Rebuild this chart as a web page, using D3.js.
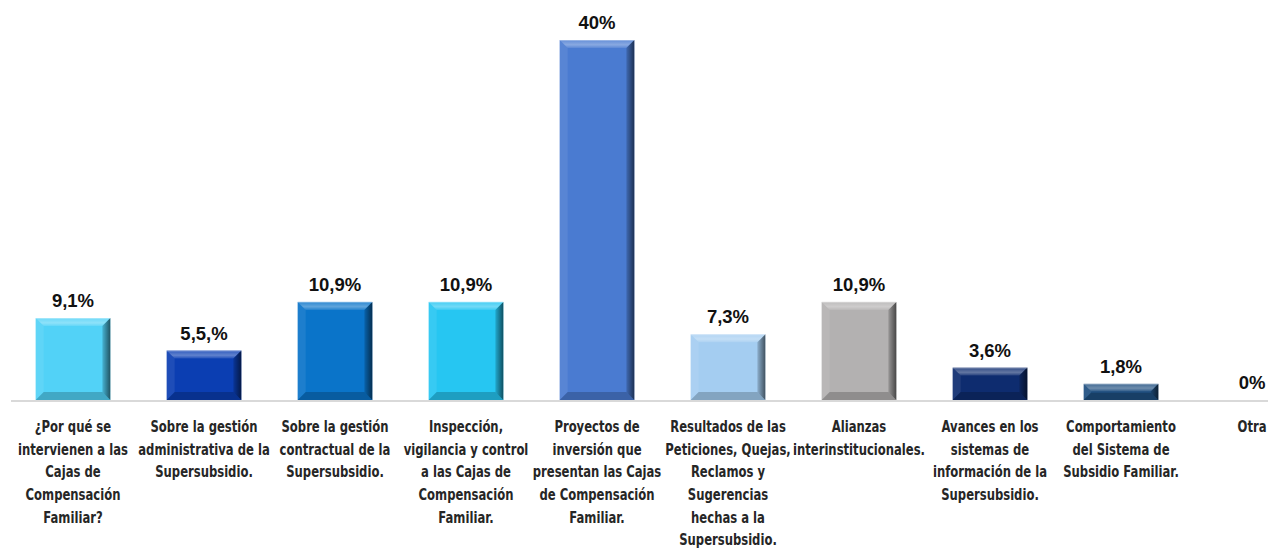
<!DOCTYPE html>
<html>
<head>
<meta charset="utf-8">
<script src="https://cdn.jsdelivr.net/npm/d3@7"></script>
<style>
  html, body { margin: 0; padding: 0; background: #ffffff; }
  svg { display: block; }
</style>
</head>
<body>
<svg id="chart" width="1268" height="548"></svg>
<script>
// ---- data ----
const categories = [
  "¿Por qué se\nintervienen a las\nCajas de\nCompensación\nFamiliar?",
  "Sobre la gestión\nadministrativa de la\nSupersubsidio.",
  "Sobre la gestión\ncontractual de la\nSupersubsidio.",
  "Inspección,\nvigilancia y control\na las Cajas de\nCompensación\nFamiliar.",
  "Proyectos de\ninversión que\npresentan las Cajas\nde Compensación\nFamiliar.",
  "Resultados de las\nPeticiones, Quejas,\nReclamos y\nSugerencias\nhechas a la\nSupersubsidio.",
  "Alianzas\ninterinstitucionales.",
  "Avances en los\nsistemas de\ninformación de la\nSupersubsidio.",
  "Comportamiento\ndel Sistema de\nSubsidio Familiar.",
  "Otra"
];
const values = [9.1, 5.5, 10.9, 10.9, 40, 7.3, 10.9, 3.6, 1.8, 0];
const valueLabels = ["9,1%", "5,5,%", "10,9%", "10,9%", "40%", "7,3%", "10,9%", "3,6%", "1,8%", "0%"];
const colors = ["#52d2f7", "#0b3eb2", "#0a74c9", "#26c6f2", "#4a7bd1", "#a4cdf1", "#b3b1b1", "#0e2c6f", "#1f4f80"];

// ---- layout ----
const svg = d3.select("#chart");
const baseY = 400;
const x = d3.scaleBand()
  .domain(d3.range(categories.length))
  .range([7.5, 1317.5])
  .paddingInner(0.43)
  .paddingOuter(0.215);
const y = d3.scaleLinear().domain([0, 40]).range([baseY, 40]);
const cx = i => x(i) + x.bandwidth() / 2;

// axis line
svg.append("line")
  .attr("x1", 11).attr("x2", 1268)
  .attr("y1", baseY + 1).attr("y2", baseY + 1)
  .attr("stroke", "#d9d9d9").attr("stroke-width", 2);

// gradients for bevels
const defs = svg.append("defs");
const rg = defs.append("linearGradient").attr("id", "rightShade")
  .attr("x1", "0").attr("x2", "1").attr("y1", "0").attr("y2", "0");
rg.append("stop").attr("offset", "0").attr("stop-color", "#000").attr("stop-opacity", 0.15);
rg.append("stop").attr("offset", "1").attr("stop-color", "#000").attr("stop-opacity", 0.6);
const tg = defs.append("linearGradient").attr("id", "topShade")
  .attr("x1", "0").attr("x2", "0").attr("y1", "0").attr("y2", "1");
tg.append("stop").attr("offset", "0").attr("stop-color", "#fff").attr("stop-opacity", 0.15);
tg.append("stop").attr("offset", "0.6").attr("stop-color", "#fff").attr("stop-opacity", 0.35);
tg.append("stop").attr("offset", "1").attr("stop-color", "#fff").attr("stop-opacity", 0.1);

// bars with bevel
const g = svg.append("g");
values.forEach((v, i) => {
  if (v <= 0) return;
  const x0 = x(i), w = x.bandwidth();
  const y0 = y(v), h = baseY - y0;
  const b = Math.min(8, h / 2.2);
  const x1 = x0 + w, y1 = baseY;
  const bar = g.append("g");
  bar.append("rect")
    .attr("x", x0).attr("y", y0).attr("width", w).attr("height", h)
    .attr("fill", colors[i]);
  const poly = (pts, fill, op) => bar.append("polygon")
    .attr("points", pts.map(p => p.join(",")).join(" "))
    .attr("fill", fill).attr("fill-opacity", op);
  poly([[x0, y0], [x1, y0], [x1 - b, y0 + b], [x0 + b, y0 + b]], "url(#topShade)", 1);
  poly([[x0, y0], [x0 + b, y0 + b], [x0 + b, y1 - b], [x0, y1]], "#ffffff", 0.08);
  poly([[x1, y0], [x1, y1], [x1 - b, y1 - b], [x1 - b, y0 + b]], "url(#rightShade)", 1);
  poly([[x0, y1], [x0 + b, y1 - b], [x1 - b, y1 - b], [x1, y1]], "#000000", 0.2);
  bar.append("line")
    .attr("x1", x0).attr("x2", x1).attr("y1", y0 + 0.5).attr("y2", y0 + 0.5)
    .attr("stroke", "#ffffff").attr("stroke-opacity", 0.3);
});

// value labels
svg.append("g").selectAll("text")
  .data(values)
  .join("text")
  .attr("x", (d, i) => cx(i))
  .attr("y", d => y(d) - 11)
  .attr("text-anchor", "middle")
  .attr("font-family", "'Liberation Sans', Arial, sans-serif")
  .attr("font-weight", "bold")
  .attr("font-size", 18.5)
  .attr("fill", "#111111")
  .text((d, i) => valueLabels[i]);

// category labels (condensed)
const labels = svg.append("g").selectAll("text")
  .data(categories)
  .join("text")
  .attr("transform", (d, i) => `translate(${cx(i)},0) scale(0.75,1)`)
  .attr("x", 0)
  .attr("y", 432)
  .attr("text-anchor", "middle")
  .attr("font-family", "'DejaVu Sans', sans-serif")
  .attr("font-weight", "bold")
  .attr("font-size", 15.5)
  .attr("fill", "#262626");
labels.each(function(d, i) {
  const t = d3.select(this);
  d.split("\n").forEach((line, k) => {
    t.append("tspan")
      .attr("x", 0)
      .attr("y", 432 + k * 22.7)
      .text(line);
  });
});
</script>
</body>
</html>
